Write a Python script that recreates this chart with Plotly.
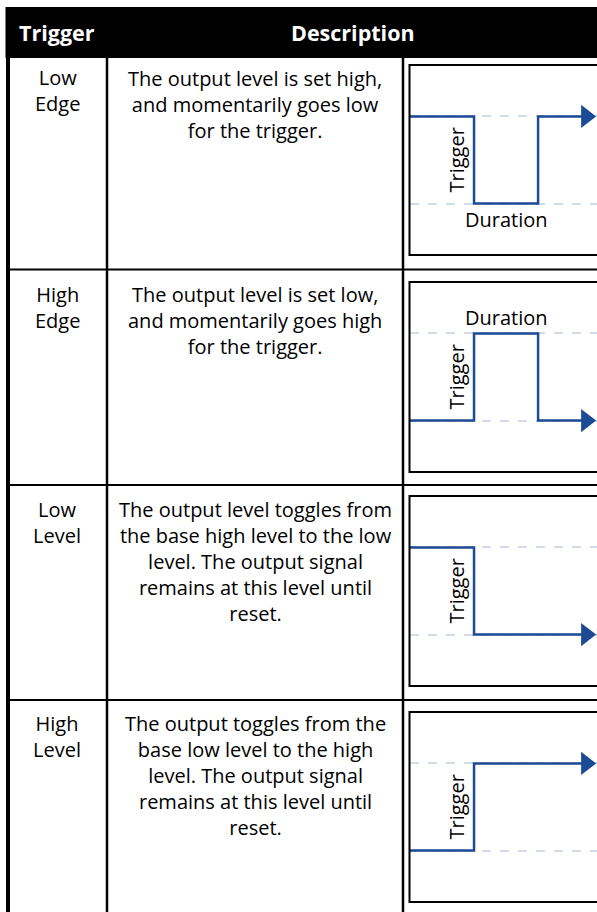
import plotly.graph_objects as go

W, H = 597, 912

header_labels = ["Trigger", "Description"]
trigger_names = [["Low", "Edge"], ["High", "Edge"], ["Low", "Level"], ["High", "Level"]]
descriptions = [
    ["The output level is set high,", "and momentarily goes low", "for the trigger."],
    ["The output level is set low,", "and momentarily goes high", "for the trigger."],
    ["The output level toggles from", "the base high level to the low", "level. The output signal",
     "remains at this level until", "reset."],
    ["The output toggles from the", "base low level to the high", "level. The output signal",
     "remains at this level until", "reset."],
]
# waveform time points (trigger at t=1, pulse ends at t=2) and logic levels
wave_t = [
    [0, 1, 1, 2, 2, 2.75],
    [0, 1, 1, 2, 2, 2.75],
    [0, 1, 1, 2.75],
    [0, 1, 1, 2.75],
]
wave_level = [
    [1, 1, 0, 0, 1, 1],
    [0, 0, 1, 1, 0, 0],
    [1, 1, 0, 0],
    [0, 0, 1, 1],
]
has_duration = [True, True, False, False]

WAVE = "#1d4a94"
GRID = "#d3dbea"
FONT = "Open Sans"
TXT = 20
DTXT = 20
LINE_H = 1.3 * TXT  # plotly multi-line spacing


def px(x):
    return x / W


def py(y):
    return 1 - y / H


fig = go.Figure()
shapes = []
annotations = []


def cell(lines, x, y_first, size=TXT, color="black", bold=False):
    text = "<br>".join(lines)
    if bold:
        text = "<b>%s</b>" % text
    yc = y_first + (len(lines) - 1) * LINE_H / 2
    annotations.append(dict(text=text, x=px(x), y=py(yc), xref="paper", yref="paper",
                            xanchor="center", yanchor="middle", align="center",
                            showarrow=False, font=dict(family=FONT, size=size, color=color)))


# header
shapes.append(dict(type="rect", xref="paper", yref="paper", x0=px(5.5), x1=1.02,
                   y0=py(58), y1=py(7), fillcolor="black", line=dict(width=0), layer="below"))
cell([header_labels[0]], 57, 32, size=21.5, color="white", bold=True)
cell([header_labels[1]], 353, 32, size=21.5, color="white", bold=True)

# table grid lines
shapes.append(dict(type="line", xref="paper", yref="paper", x0=px(8), x1=px(8), y0=py(57), y1=py(915),
                   line=dict(color="black", width=4)))
for xv in (107, 403):
    shapes.append(dict(type="line", xref="paper", yref="paper", x0=px(xv), x1=px(xv), y0=py(57), y1=py(915),
                       line=dict(color="black", width=2.5)))
for yv in (269.5, 485, 700):
    shapes.append(dict(type="line", xref="paper", yref="paper", x0=px(6), x1=1.02, y0=py(yv), y1=py(yv),
                       line=dict(color="black", width=2)))

row_first = [78, 294, 509, 723]
box_tops = [65, 282, 496, 712]
box_h = 190
box_left = 410

for i in range(4):
    cell(trigger_names[i], 57, row_first[i])
    cell(descriptions[i], 255, row_first[i])

    n = "" if i == 0 else str(i + 1)
    xa, ya = "x" + n, "y" + n
    top = box_tops[i]
    fig.update_layout(**{
        "xaxis" + n: dict(domain=[px(box_left), 1], range=[0, 2.92], visible=False, fixedrange=True),
        "yaxis" + n: dict(domain=[py(top + box_h), py(top)], range=[-0.59, 1.59], showticklabels=False,
                          tickvals=[0, 1], showgrid=True, gridcolor=GRID, griddash="dash", gridwidth=1.5,
                          zeroline=False, showline=False, ticks="", fixedrange=True),
    })
    shapes.append(dict(type="rect", xref="paper", yref="paper", x0=px(box_left - 0.5), x1=1.05,
                       y0=py(top + box_h), y1=py(top), line=dict(color="black", width=2), layer="above"))

    fig.add_trace(go.Scatter(x=wave_t[i], y=wave_level[i], mode="lines", xaxis=xa, yaxis=ya,
                             line=dict(color=WAVE, width=2.5), showlegend=False, hoverinfo="skip"))
    fig.add_trace(go.Scatter(x=[wave_t[i][-1]], y=[wave_level[i][-1]], mode="markers", xaxis=xa, yaxis=ya,
                             marker=dict(symbol="triangle-right", size=20, color=WAVE, line=dict(width=0)),
                             cliponaxis=False, showlegend=False, hoverinfo="skip"))

    t_trig = wave_t[i][1]
    annotations.append(dict(text="Trigger", textangle=-90, x=t_trig, y=0.5, xref=xa, yref=ya,
                            xanchor="right", yanchor="middle", xshift=-3, showarrow=False,
                            font=dict(family=FONT, size=DTXT, color="black")))
    if has_duration[i]:
        pulse = wave_level[i][2]
        mid = (wave_t[i][2] + wave_t[i][3]) / 2
        annotations.append(dict(text="Duration", x=mid, y=pulse, xref=xa, yref=ya, xanchor="center",
                                yanchor="top" if pulse == 0 else "bottom", showarrow=False,
                                font=dict(family=FONT, size=DTXT, color="black")))

fig.update_layout(width=W, height=H, margin=dict(l=0, r=0, t=0, b=0),
                  paper_bgcolor="white", plot_bgcolor="white",
                  shapes=shapes, annotations=annotations, showlegend=False)

fig.write_html("out.html", config={"displayModeBar": False},
               post_script="document.body.style.margin='0';document.body.style.overflow='hidden';")
